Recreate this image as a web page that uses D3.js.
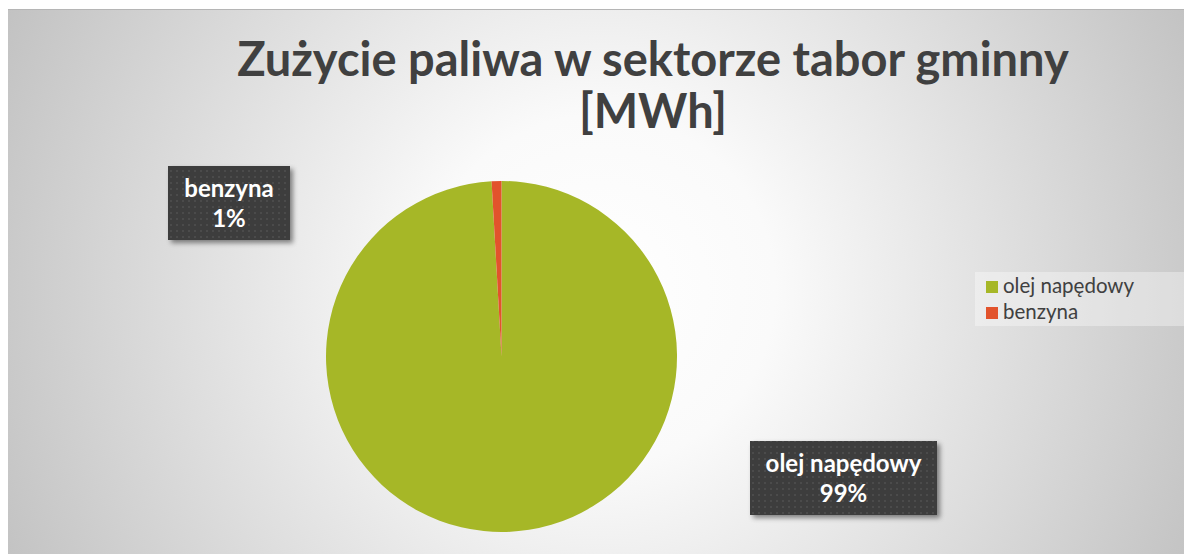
<!DOCTYPE html>
<html>
<head>
<meta charset="utf-8">
<script src="https://cdn.jsdelivr.net/npm/d3@7"></script>
<style>
  html, body { margin: 0; padding: 0; background: #fff; }
  svg { display: block; font-family: Lato, "Open Sans", sans-serif; }
</style>
</head>
<body>
<svg id="chart" width="1184" height="554"></svg>
<script>
/* ── Data ─────────────────────────────────────────────────────────── */
const categories = ['olej napędowy', 'benzyna'];
const values     = [99.1, 0.9];
const pctLabels  = ['99%', '1%'];
const colors     = ['#a6b727', '#e2532c'];
const titleLines = ['Zużycie paliwa w sektorze tabor gminny', '[MWh]'];

/* ── Setup ────────────────────────────────────────────────────────── */
const svg = d3.select('#chart');
const W = 1184, H = 554;
const defs = svg.append('defs');

const bg = defs.append('radialGradient').attr('id', 'bg')
  .attr('gradientUnits', 'userSpaceOnUse')
  .attr('cx', 600).attr('cy', 290).attr('r', 700);
bg.append('stop').attr('offset', '0%').attr('stop-color', '#ffffff');
bg.append('stop').attr('offset', '25%').attr('stop-color', '#fafafa');
bg.append('stop').attr('offset', '100%').attr('stop-color', '#bdbdbd');

const dots = defs.append('pattern').attr('id', 'dots')
  .attr('patternUnits', 'userSpaceOnUse').attr('width', 6).attr('height', 6);
dots.append('rect').attr('width', 6).attr('height', 6).attr('fill', '#3d3d3d');
dots.append('rect').attr('x', 2).attr('y', 2).attr('width', 2).attr('height', 2).attr('fill', '#4b4b4b');

const shadow = defs.append('filter').attr('id', 'shadow')
  .attr('x', '-20%').attr('y', '-20%').attr('width', '140%').attr('height', '150%');
shadow.append('feDropShadow').attr('dx', 3).attr('dy', 3).attr('stdDeviation', 2.5)
  .attr('flood-color', '#000').attr('flood-opacity', 0.45);

// chart area
svg.append('rect').attr('x', 8).attr('y', 9).attr('width', W - 8).attr('height', H - 9)
  .attr('fill', 'url(#bg)');
svg.append('line').attr('x1', 8).attr('x2', W).attr('y1', 9.5).attr('y2', 9.5)
  .attr('stroke', '#b5b5b5').attr('stroke-width', 1);

/* ── Title ────────────────────────────────────────────────────────── */
const title = svg.append('text').attr('text-anchor', 'middle')
  .attr('fill', '#404040').attr('font-weight', 700).attr('font-size', 47);
titleLines.forEach((t, i) => {
  title.append('tspan').attr('x', 653).attr('y', 76 + i * 52).text(t);
});

/* ── Pie ──────────────────────────────────────────────────────────── */
const cx = 501.5, cy = 356.5, R = 175.5;
const pie = d3.pie().sort(null).value(d => d)(values);
const arc = d3.arc().innerRadius(0).outerRadius(R);
const g = svg.append('g').attr('transform', `translate(${cx},${cy})`);
g.selectAll('path').data(pie).join('path')
  .attr('d', arc)
  .attr('fill', (d, i) => colors[i]);

/* ── Data labels ──────────────────────────────────────────────────── */
const labelBoxes = [
  { x: 168, y: 166, w: 122, h: 74 },   // benzyna
  { x: 750, y: 441, w: 187, h: 74 }    // olej napędowy
];
const labelOrder = [1, 0];
labelOrder.forEach((ci, k) => {
  const b = labelBoxes[k];
  const lg = svg.append('g');
  lg.append('rect').attr('x', b.x).attr('y', b.y).attr('width', b.w).attr('height', b.h)
    .attr('fill', 'url(#dots)').attr('filter', 'url(#shadow)');
  const t = lg.append('text').attr('text-anchor', 'middle').attr('fill', '#ffffff')
    .attr('font-weight', 700).attr('font-size', 24);
  t.append('tspan').attr('x', b.x + b.w / 2).attr('y', b.y + 31).text(categories[ci]);
  t.append('tspan').attr('x', b.x + b.w / 2).attr('y', b.y + 61).text(pctLabels[ci]);
});

/* ── Legend ───────────────────────────────────────────────────────── */
svg.append('rect').attr('x', 975).attr('y', 272).attr('width', 209).attr('height', 54)
  .attr('fill', '#ffffff').attr('opacity', 0.35);
const leg = svg.append('g').attr('transform', 'translate(986,281)');
categories.forEach((c, i) => {
  const row = leg.append('g').attr('transform', `translate(0,${i * 26})`);
  row.append('rect').attr('width', 12).attr('height', 12).attr('fill', colors[i]);
  row.append('text').attr('x', 17).attr('y', 12).attr('fill', '#404040')
    .attr('font-size', 20.5).text(c);
});
</script>
</body>
</html>
